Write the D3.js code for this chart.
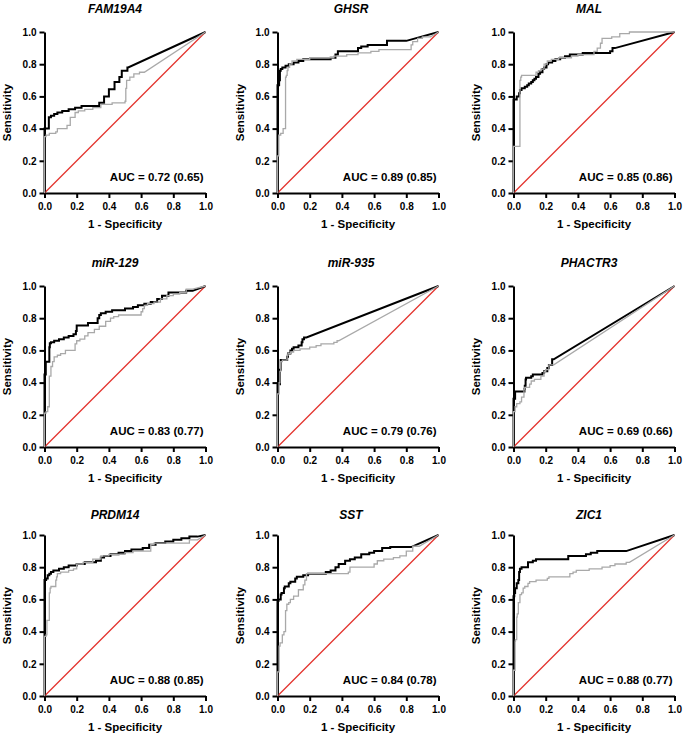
<!DOCTYPE html>
<html><head><meta charset="utf-8">
<script src="https://cdn.jsdelivr.net/npm/d3@7"></script>
<style>
body{margin:0;background:#fff}
text{font-family:"Liberation Sans",Arial,Helvetica,sans-serif;font-weight:bold;fill:#000}
</style></head><body>
<svg id="c" width="685" height="737"></svg>
<script>
// ---------------- DATA ----------------
const genes = ["FAM19A4","GHSR","MAL","miR-129","miR-935","PHACTR3","PRDM14","SST","ZIC1"];
const aucMain = ["0.72","0.89","0.85","0.83","0.79","0.69","0.88","0.84","0.88"];
const aucAlt  = ["0.65","0.85","0.86","0.77","0.76","0.66","0.85","0.78","0.77"];
const tickValues = [0,0.2,0.4,0.6,0.8,1.0];
const xLabel = "1 - Specificity";
const yLabel = "Sensitivity";

// ROC vertices [1-specificity, sensitivity]; black = main, grey = comparison
const FAM19A4_black = [[0,0],[0,0.34],[0.027,0.40],[0.04,0.47],[0.06,0.48],[0.08,0.49],[0.11,0.50],[0.15,0.51],[0.19,0.52],[0.23,0.53],[0.34,0.54],[0.37,0.56],[0.40,0.60],[0.435,0.645],[0.465,0.69],[0.48,0.72],[0.515,0.76],[0.52,0.78],[1,1]];
const FAM19A4_grey  = [[0,0],[0,0.27],[0.01,0.35],[0.03,0.36],[0.07,0.37],[0.08,0.38],[0.14,0.40],[0.16,0.42],[0.19,0.47],[0.21,0.50],[0.25,0.51],[0.30,0.52],[0.35,0.53],[0.42,0.55],[0.50,0.56],[0.505,0.57],[0.51,0.65],[0.53,0.70],[0.555,0.72],[0.59,0.74],[0.62,0.75],[1,1]];
const GHSR_black = [[0,0],[0,0.65],[0.01,0.67],[0.015,0.70],[0.02,0.76],[0.03,0.77],[0.05,0.78],[0.07,0.79],[0.10,0.80],[0.13,0.81],[0.16,0.82],[0.33,0.83],[0.36,0.84],[0.375,0.86],[0.50,0.88],[0.52,0.90],[0.56,0.91],[0.68,0.92],[0.80,0.945],[1,1]];
const GHSR_grey  = [[0,0],[0,0.23],[0.008,0.23],[0.02,0.36],[0.035,0.37],[0.05,0.40],[0.055,0.72],[0.06,0.73],[0.065,0.76],[0.075,0.78],[0.09,0.80],[0.12,0.82],[0.20,0.83],[0.35,0.84],[0.43,0.85],[0.50,0.86],[0.58,0.87],[0.63,0.88],[0.83,0.89],[0.84,0.92],[0.87,0.94],[0.90,0.96],[0.95,0.97],[1,1]];
const MAL_black = [[0,0],[0,0.58],[0.02,0.58],[0.035,0.60],[0.04,0.62],[0.05,0.64],[0.07,0.65],[0.085,0.66],[0.095,0.67],[0.11,0.68],[0.12,0.69],[0.13,0.70],[0.14,0.71],[0.155,0.72],[0.165,0.74],[0.18,0.75],[0.19,0.77],[0.205,0.78],[0.215,0.80],[0.24,0.81],[0.26,0.82],[0.29,0.83],[0.32,0.84],[0.35,0.85],[0.43,0.86],[0.60,0.87],[0.615,0.88],[0.63,0.90],[1,1]];
const MAL_grey  = [[0,0],[0,0.29],[0.04,0.29],[0.045,0.70],[0.05,0.72],[0.06,0.73],[0.14,0.73],[0.155,0.75],[0.17,0.76],[0.19,0.77],[0.21,0.80],[0.235,0.82],[0.28,0.83],[0.36,0.84],[0.40,0.85],[0.50,0.86],[0.52,0.88],[0.54,0.90],[0.55,0.93],[0.61,0.96],[0.66,0.97],[0.72,0.99],[0.73,1.0],[1,1]];
const miR129_black = [[0,0],[0,0.45],[0.008,0.45],[0.03,0.53],[0.033,0.62],[0.04,0.645],[0.06,0.65],[0.09,0.66],[0.12,0.67],[0.15,0.68],[0.18,0.69],[0.195,0.70],[0.20,0.72],[0.27,0.755],[0.33,0.77],[0.34,0.80],[0.35,0.82],[0.38,0.83],[0.42,0.84],[0.50,0.85],[0.55,0.86],[0.58,0.87],[0.62,0.88],[0.66,0.89],[0.70,0.90],[0.73,0.92],[0.77,0.94],[0.80,0.96],[0.88,0.96],[0.92,0.97],[1,1]];
const miR129_grey  = [[0,0],[0,0.20],[0.01,0.21],[0.02,0.22],[0.03,0.25],[0.04,0.44],[0.05,0.50],[0.06,0.53],[0.08,0.56],[0.10,0.57],[0.13,0.58],[0.19,0.60],[0.20,0.64],[0.22,0.66],[0.25,0.67],[0.27,0.69],[0.31,0.71],[0.34,0.73],[0.38,0.75],[0.41,0.78],[0.43,0.80],[0.46,0.81],[0.60,0.82],[0.61,0.84],[0.62,0.86],[0.64,0.88],[0.68,0.89],[0.72,0.90],[0.76,0.92],[0.80,0.94],[0.84,0.95],[0.88,0.96],[0.92,0.98],[1,1]];
const miR935_black = [[0,0],[0,0.39],[0.015,0.39],[0.02,0.48],[0.025,0.54],[0.06,0.54],[0.065,0.56],[0.07,0.58],[0.08,0.58],[0.09,0.60],[0.10,0.61],[0.13,0.62],[0.15,0.63],[0.155,0.65],[0.165,0.67],[0.18,0.68],[1,1]];
const miR935_grey  = [[0,0],[0,0.31],[0.01,0.33],[0.015,0.40],[0.02,0.47],[0.03,0.53],[0.06,0.54],[0.065,0.57],[0.08,0.58],[0.10,0.59],[0.14,0.60],[0.20,0.61],[0.24,0.62],[0.27,0.63],[0.35,0.64],[0.37,0.65],[0.38,0.66],[1,1]];
const PHACTR3_black = [[0,0],[0,0.30],[0.01,0.30],[0.068,0.345],[0.07,0.36],[0.075,0.38],[0.078,0.42],[0.09,0.43],[0.11,0.43],[0.12,0.44],[0.18,0.45],[0.19,0.46],[0.21,0.47],[0.22,0.49],[0.24,0.51],[0.25,0.545],[1,1]];
const PHACTR3_grey  = [[0,0],[0,0.21],[0.01,0.22],[0.02,0.25],[0.04,0.27],[0.05,0.28],[0.065,0.31],[0.07,0.36],[0.10,0.37],[0.11,0.39],[0.13,0.41],[0.17,0.42],[0.19,0.44],[0.20,0.47],[0.22,0.48],[0.25,0.51],[1,1]];
const PRDM14_black = [[0,0],[0,0.71],[0.01,0.72],[0.02,0.73],[0.03,0.75],[0.04,0.76],[0.055,0.77],[0.09,0.78],[0.12,0.79],[0.15,0.80],[0.20,0.81],[0.25,0.82],[0.32,0.83],[0.35,0.84],[0.37,0.86],[0.41,0.87],[0.46,0.88],[0.50,0.89],[0.54,0.90],[0.61,0.91],[0.65,0.92],[0.69,0.94],[0.75,0.95],[0.80,0.96],[0.85,0.97],[0.90,0.98],[0.95,0.99],[1,1]];
const PRDM14_grey  = [[0,0],[0,0.35],[0.01,0.37],[0.015,0.38],[0.03,0.47],[0.035,0.64],[0.04,0.67],[0.07,0.68],[0.075,0.72],[0.08,0.74],[0.10,0.76],[0.15,0.77],[0.18,0.78],[0.20,0.79],[0.24,0.82],[0.30,0.83],[0.35,0.85],[0.40,0.87],[0.50,0.88],[0.55,0.89],[0.66,0.90],[0.68,0.94],[0.75,0.95],[0.90,0.95],[0.95,0.97],[1,1]];
const SST_black = [[0,0],[0,0.50],[0.006,0.59],[0.02,0.60],[0.025,0.63],[0.04,0.64],[0.045,0.67],[0.07,0.68],[0.08,0.70],[0.11,0.71],[0.12,0.73],[0.16,0.74],[0.19,0.75],[0.30,0.76],[0.33,0.77],[0.36,0.78],[0.38,0.80],[0.42,0.82],[0.45,0.84],[0.48,0.85],[0.52,0.86],[0.57,0.88],[0.60,0.89],[0.65,0.90],[0.70,0.92],[0.83,0.925],[1,1]];
const SST_grey  = [[0,0],[0,0.14],[0.01,0.15],[0.016,0.31],[0.03,0.33],[0.04,0.38],[0.05,0.40],[0.058,0.53],[0.07,0.57],[0.08,0.58],[0.10,0.60],[0.13,0.62],[0.16,0.66],[0.17,0.69],[0.18,0.72],[0.19,0.76],[0.44,0.76],[0.45,0.77],[0.47,0.80],[0.60,0.80],[0.62,0.82],[0.66,0.84],[0.72,0.85],[0.76,0.86],[0.80,0.87],[0.84,0.90],[0.88,0.93],[1,1]];
const ZIC1_black = [[0,0],[0,0.61],[0.005,0.62],[0.01,0.64],[0.02,0.67],[0.03,0.70],[0.035,0.72],[0.04,0.77],[0.05,0.79],[0.06,0.80],[0.09,0.80],[0.095,0.83],[0.12,0.83],[0.14,0.84],[0.20,0.85],[0.34,0.85],[0.35,0.87],[0.45,0.87],[0.48,0.88],[0.52,0.89],[0.54,0.90],[0.70,0.90],[1,1]];
const ZIC1_grey  = [[0,0],[0,0.16],[0.01,0.16],[0.012,0.34],[0.02,0.35],[0.023,0.49],[0.03,0.51],[0.04,0.58],[0.05,0.63],[0.06,0.64],[0.07,0.67],[0.09,0.68],[0.10,0.70],[0.14,0.71],[0.17,0.72],[0.21,0.72],[0.22,0.73],[0.28,0.74],[0.35,0.74],[0.37,0.76],[0.39,0.77],[0.47,0.78],[0.55,0.79],[0.60,0.80],[0.63,0.81],[0.70,0.82],[0.72,0.83],[1,1]];

const blackCurves = [FAM19A4_black,GHSR_black,MAL_black,miR129_black,miR935_black,PHACTR3_black,PRDM14_black,SST_black,ZIC1_black];
const greyCurves  = [FAM19A4_grey,GHSR_grey,MAL_grey,miR129_grey,miR935_grey,PHACTR3_grey,PRDM14_grey,SST_grey,ZIC1_grey];

// ---------------- LAYOUT ----------------
const colX = [44.5, 277.5, 513.5];
const rowY = [32, 286, 535];
const titleX = [115, 351, 589];
const titleBase = [13, 266.5, 519];
const W = 161, H = 161;

const svg = d3.select('#c');

genes.forEach((gene, i) => {
  const col = i % 3, row = Math.floor(i / 3);
  const x0 = colX[col], y0 = rowY[row];
  const x = d3.scaleLinear().domain([0, 1]).range([x0, x0 + W]);
  const y = d3.scaleLinear().domain([0, 1]).range([y0 + H, y0]);
  const g = svg.append('g');

  // axes
  const xa = g.append('g').attr('transform', `translate(0,${y0 + H})`)
    .call(d3.axisBottom(x).tickValues(tickValues).tickFormat(d3.format('.1f'))
      .tickSize(5).tickSizeOuter(0).tickPadding(5));
  const ya = g.append('g').attr('transform', `translate(${x0},0)`)
    .call(d3.axisLeft(y).tickValues(tickValues).tickFormat(d3.format('.1f'))
      .tickSize(5).tickSizeOuter(0).tickPadding(3));
  [xa, ya].forEach(a => {
    a.selectAll('path,line').attr('stroke', '#000').attr('stroke-width', 2);
    a.selectAll('text').style('font-size', '10px').style('font-weight', 'bold')
      .style('font-family', '"Liberation Sans",Arial,sans-serif');
  });

  // reference diagonal
  const lin = d3.line().x(d => x(d[0])).y(d => y(d[1]));
  g.append('path').attr('d', lin([[0, 0], [1, 1]]))
    .attr('fill', 'none').attr('stroke', '#e3312b').attr('stroke-width', 1.2);

  const step = d3.line().x(d => x(d[0])).y(d => y(d[1])).curve(d3.curveStepBefore);
  const rocPath = pts => {
    const last = pts[pts.length - 1];
    return step(pts.slice(0, -1)) + 'L' + x(last[0]) + ',' + y(last[1]);
  };
  g.append('path').attr('d', rocPath(blackCurves[i]))
    .attr('fill', 'none').attr('stroke', '#000').attr('stroke-width', 2)
    .attr('stroke-linejoin', 'miter');
  g.append('path').attr('d', rocPath(greyCurves[i]))
    .attr('fill', 'none').attr('stroke', '#a9a9a9').attr('stroke-width', 1.3);

  // title
  svg.append('text').attr('x', titleX[col]).attr('y', titleBase[row])
    .attr('text-anchor', 'middle').style('font-size', '12px').style('font-style', 'italic')
    .text(gene);
  // x label
  svg.append('text').attr('x', x0 + W / 2).attr('y', y0 + H + 34.5)
    .attr('text-anchor', 'middle').style('font-size', '11.5px').text(xLabel);
  // y label
  svg.append('text').attr('transform', `translate(${x0 - 38},${y0 + H / 2}) rotate(-90)`)
    .attr('text-anchor', 'middle').attr('dy', '0.35em').style('font-size', '11.5px').text(yLabel);
  // AUC
  svg.append('text').attr('x', x0 + W - 2).attr('y', y0 + H - 12.5)
    .attr('text-anchor', 'end').style('font-size', '11.5px')
    .text(`AUC = ${aucMain[i]} (${aucAlt[i]})`);
});
</script>
</body></html>
